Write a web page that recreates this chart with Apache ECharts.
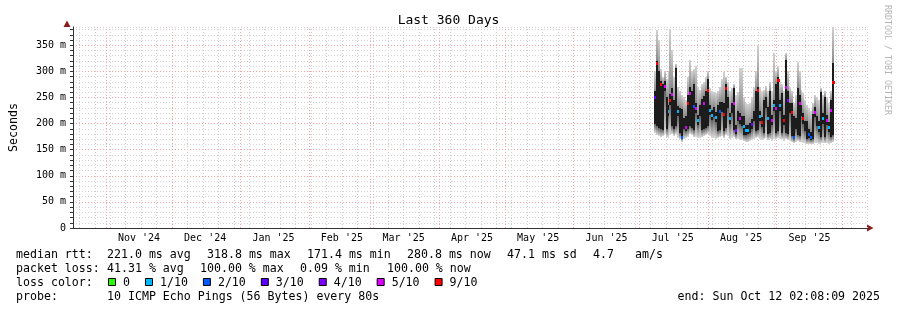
<!DOCTYPE html>
<html><head><meta charset="utf-8">
<script src="https://cdn.jsdelivr.net/npm/echarts@6/dist/echarts.min.js"></script>
<style>html,body{margin:0;padding:0;background:#fff}#c{width:897px;height:310px}</style>
</head><body><div id="c"></div>
<script>
// ---------- data ----------
const TITLE = 'Last 360 Days';
const END_TIME = '2025-10-12T02:08:09Z';
const SPAN_DAYS = 360;
const FIRST_SAMPLE = '2025-07-07T19:00:00Z';
const STEP_HOURS = 21.6;

const monthLabels = ["Nov '24","Dec '24","Jan '25","Feb '25","Mar '25","Apr '25","May '25","Jun '25","Jul '25","Aug '25","Sep '25"];
const monthLabelDates = ['2024-11-16','2024-12-16','2025-01-16','2025-02-16','2025-03-16','2025-04-16','2025-05-16','2025-06-16','2025-07-16','2025-08-16','2025-09-16'];
const monthStarts = ['2024-11-01','2024-12-01','2025-01-01','2025-02-01','2025-03-01','2025-04-01','2025-05-01','2025-06-01','2025-07-01','2025-08-01','2025-09-01','2025-10-01'];
const FIRST_WEEK_LINE = '2024-10-20';

// median rtt (ms)
const median = [250,316,290,276,262,272,240,225,246,256,
  230,262,224,218,175,200,193,240,258,245,
  234,230,207,225,232,240,250,264,226,216,
  222,213,220,225,232,219,268,240,210,230,
  240,188,215,210,205,195,187,188,192,199,
  215,228,264,215,203,225,240,210,245,207,
  235,229,283,235,240,207,270,245,230,222,
  174,200,250,239,225,210,195,185,180,174,
  200,222,205,194,240,210,230,207,193,226,
  279];
// visible median marks: lost pings out of 10 (null = no mark drawn)
const lossMark = [3,9,null,9,null,5,null,1,9,5,
  null,null,1,null,2,null,5,9,5,null,
  2,5,1,null,null,5,null,9,1,1,
  null,1,null,2,null,9,9,null,1,null,
  5,4,null,5,null,1,1,1,null,3,
  null,null,9,1,9,null,null,1,null,5,
  1,5,9,1,null,9,5,4,null,9,
  2,null,null,5,null,9,null,null,2,2,
  null,5,null,1,null,1,null,5,1,5,
  9];
// dense smoke core (ms)
const coreLo = [200,195,192,190,188,262,190,215,236,195,
  190,195,214,182,172,190,185,190,195,192,
  188,220,197,215,188,190,192,195,216,206,
  212,203,186,188,222,186,192,230,200,220,
  188,180,205,200,195,178,179,180,182,189,
  205,185,188,205,193,182,230,180,182,197,
  225,182,186,225,182,197,182,180,220,176,
  170,190,178,176,215,200,185,170,172,168,
  170,212,195,184,174,200,174,197,183,174,
  178];
const coreHi = [262,320,300,282,276,282,250,235,256,268,
  245,307,234,230,228,210,215,255,270,262,
  276,240,217,235,248,252,262,285,236,226,
  232,223,236,242,242,240,275,250,220,240,
  268,198,225,220,215,215,197,198,202,209,
  225,262,270,225,213,245,250,232,262,217,
  245,275,290,245,258,217,321,262,240,240,
  215,210,268,255,235,220,205,205,190,184,
  218,232,215,204,260,220,250,217,203,245,
  316];
// outer smoke (ms)
const smokeLo = [182,178,176,175,176,180,175,172,178,180,
  176,180,172,170,165,170,172,175,180,178,
  175,174,172,173,175,176,178,180,176,172,
  172,170,172,174,176,172,178,176,170,172,
  174,170,170,168,168,166,165,165,166,168,
  170,172,174,170,168,170,172,168,170,166,
  170,170,172,170,170,166,170,168,166,164,
  162,164,166,164,164,163,162,161,161,160,
  161,162,162,161,163,162,163,162,161,163,
  165];
const smokeHi = [300,379,360,305,290,300,285,300,382,340,
  290,315,270,262,255,250,245,290,321,300,
  305,310,270,265,275,280,290,300,268,262,
  260,258,262,270,285,298,290,280,262,268,
  275,255,260,306,306,250,240,238,240,250,
  270,300,350,270,262,265,272,262,280,262,
  335,300,310,280,275,262,335,300,270,262,
  240,255,318,300,265,258,245,235,230,225,
  240,255,250,245,268,255,262,250,240,262,
  385];

const lossLegend = ['0','1/10','2/10','3/10','4/10','5/10','9/10'];
const lossColors = ['#26ff00','#00b8ff','#0059ff','#5e00ff','#7e00ff','#dd00ff','#ff0000'];
const statsRtt = [['median rtt:',16],['221.0 ms avg',107],['318.8 ms max',207],['171.4 ms min',307],['280.8 ms now',407],['47.1 ms sd',507],['4.7',593],['am/s',635]];
const statsLoss = [['packet loss:',16],['41.31 % avg',107],['100.00 % max',200],['0.09 % min',300],['100.00 % now',387]];
const probeText = '10 ICMP Echo Pings (56 Bytes) every 80s';
const endText = 'end: Sun Oct 12 02:08:09 2025';

// ---------- chart ----------
const DAY = 86400000;
const END = Date.parse(END_TIME);
const START = END - SPAN_DAYS * DAY;
const STEP = STEP_HOURS * 3600000;
const T0 = Date.parse(FIRST_SAMPLE);
const rows = median.map((m, i) => [T0 + i * STEP, m, coreLo[i], coreHi[i], smokeLo[i], smokeHi[i], lossMark[i] == null ? -1 : lossMark[i]]);

function lossColor(l) {
  if (l <= 0) return lossColors[0];
  if (l >= 9) return lossColors[6];
  if (l >= 5) return lossColors[5];
  return lossColors[l];
}

const monthLines = monthStarts.map(d => ({xAxis: Date.parse(d), lineStyle: {color: '#f3a3a3', type: [1, 2], width: 1}}));
const weekLines = [];
for (let t = Date.parse(FIRST_WEEK_LINE); t < END; t += 7 * DAY) {
  weekLines.push({xAxis: t, lineStyle: {color: '#cfcfcf', type: [1, 2], width: 1}});
}
const labelVals = monthLabelDates.map(d => Date.parse(d));

const MONO = '"DejaVu Sans Mono", monospace';
const LFONT = '11.6px "DejaVu Sans Mono"';
const graphics = [];
function txt(text, x, y, align) {
  graphics.push({type: 'text', x: x, y: y, silent: true, style: {text: text, font: LFONT, fill: '#000', align: align || 'left', verticalAlign: 'middle'}});
}
statsRtt.forEach(s => txt(s[0], s[1], 254.5));
statsLoss.forEach(s => txt(s[0], s[1], 268.5));
txt('loss color:', 16, 282.5);
let bx = 108;
lossLegend.forEach((lab, k) => {
  graphics.push({type: 'rect', silent: true, shape: {x: bx + 0.5, y: 278.5, width: 7, height: 7}, style: {fill: lossColors[k], stroke: '#000', lineWidth: 1}});
  txt(lab, bx + 15, 282.5);
  bx = bx + 15 + lab.length * 6.98 + 15;
});
txt('probe:', 16, 296.5);
txt(probeText, 107, 296.5);
txt(endText, 880, 296.5, 'right');
graphics.push({type: 'text', x: 887, y: 5, rotation: -Math.PI / 2, silent: true, style: {text: 'RRDTOOL / TOBI OETIKER', font: '8.3px "DejaVu Sans Mono"', fill: '#b4b4b4', align: 'left', verticalAlign: 'middle'}});
graphics.push({type: 'polygon', silent: true, shape: {points: [[63.5, 27], [70.5, 27], [67, 20.5]]}, style: {fill: '#8b1c1c'}});
graphics.push({type: 'polygon', silent: true, shape: {points: [[867, 224.5], [867, 231.5], [873.5, 228]]}, style: {fill: '#8b1c1c'}});

const chart = echarts.init(document.getElementById('c'), null, {renderer: 'canvas'});
chart.setOption({
  animation: false,
  backgroundColor: '#fff',
  title: {text: TITLE, left: 'center', top: 9, textStyle: {fontFamily: MONO, fontSize: 13, fontWeight: 'normal', color: '#000'}},
  grid: {left: 67, right: 30, top: 27, bottom: 82},
  xAxis: {
    type: 'value', min: START, max: END,
    axisLine: {show: true, lineStyle: {color: '#333', width: 1}},
    axisTick: {show: false},
    splitLine: {show: false},
    axisLabel: {
      customValues: labelVals, margin: 5, color: '#000', fontFamily: MONO, fontSize: 10,
      showMinLabel: true, showMaxLabel: true, hideOverlap: false,
      formatter: v => { const k = labelVals.indexOf(v); return k >= 0 ? monthLabels[k] : ''; }
    }
  },
  yAxis: {
    type: 'value', min: 0, max: 385, interval: 10,
    name: 'Seconds', nameLocation: 'middle', nameRotate: 90, nameGap: 53,
    nameTextStyle: {fontFamily: MONO, fontSize: 11.6, color: '#000'},
    axisLine: {show: true, lineStyle: {color: '#333', width: 1}},
    axisTick: {show: true, length: 3, lineStyle: {color: '#333'}},
    axisLabel: {
      margin: 7, color: '#000', fontFamily: MONO, fontSize: 10, interval: 0, showMaxLabel: false,
      formatter: v => (v % 50 === 0 ? (v === 0 ? '0' : v + ' m') : '')
    },
    splitLine: {show: true, lineStyle: {color: ['#f3a3a3', '#d2d2d2', '#d2d2d2', '#d2d2d2', '#d2d2d2'], type: [1, 2], width: 1}}
  },
  graphic: graphics,
  series: [
    {
      type: 'line', data: [], z: 1, silent: true,
      markLine: {z: 1, silent: true, symbol: ['none', 'none'], label: {show: false}, animation: false, data: weekLines.concat(monthLines)}
    },
    {
      type: 'custom', z: 10, silent: true,
      data: rows,
      encode: {x: 0, y: [1, 2, 3, 4, 5]},
      renderItem: function (params, api) {
        const t = api.value(0);
        const med = api.value(1), cLo = api.value(2), cHi = api.value(3), sLo = api.value(4), sHi = api.value(5), loss = api.value(6);
        const x0 = api.coord([t, 0])[0];
        const w = api.size([STEP, 0])[0];
        const left = Math.round(x0 - w / 2);
        const width = Math.round(x0 + w / 2) - left;
        const Y = v => Math.round(api.coord([t, v])[1]);
        const ch = [];
        ch.push({type: 'rect', shape: {x: left, y: Y(cLo), width: width, height: Y(sLo) - Y(cLo)},
          style: {fill: new echarts.graphic.LinearGradient(0, 0, 0, 1, [{offset: 0, color: '#606060'}, {offset: 1, color: '#dadada'}])}});
        ch.push({type: 'rect', shape: {x: left, y: Y(sHi), width: width, height: Y(cHi) - Y(sHi)},
          style: {fill: new echarts.graphic.LinearGradient(0, 0, 0, 1, [{offset: 0, color: '#d2d2d2'}, {offset: 1, color: '#8a8a8a'}])}});
        ch.push({type: 'rect', shape: {x: left, y: Y(cHi), width: width, height: Y(cLo) - Y(cHi)}, style: {fill: '#1c1c1c'}});
        if (loss >= 0) {
          ch.push({type: 'rect', shape: {x: left, y: Y(med) - 1, width: width + 1, height: 3}, style: {fill: lossColor(loss)}});
        }
        return {type: 'group', children: ch};
      }
    }
  ]
});
</script></body></html>
